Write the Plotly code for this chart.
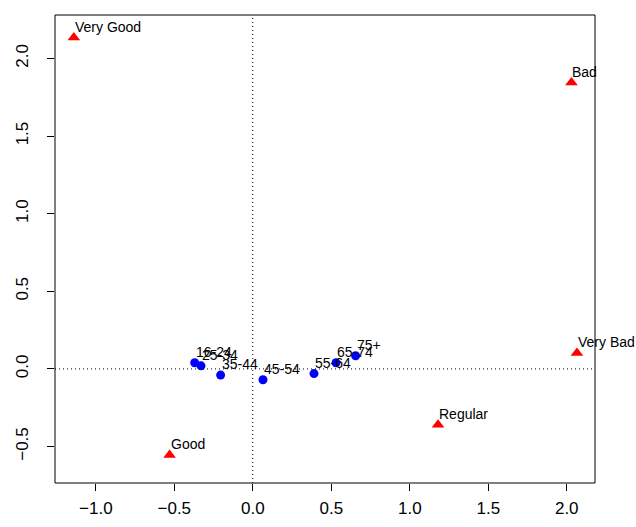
import plotly.graph_objects as go

row_labels = ["16-24", "25-34", "35-44", "45-54", "55-64", "65-74", "75+"]
row_x = [-0.37, -0.33, -0.205, 0.065, 0.39, 0.53, 0.655]
row_y = [0.04, 0.02, -0.04, -0.07, -0.03, 0.04, 0.085]

col_labels = ["Very Good", "Good", "Regular", "Bad", "Very Bad"]
col_x = [-1.14, -0.53, 1.18, 2.03, 2.065]
col_y = [2.135, -0.555, -0.36, 1.845, 0.103]

x_ticks = [-1.0, -0.5, 0.0, 0.5, 1.0, 1.5, 2.0]
y_ticks = [-0.5, 0.0, 0.5, 1.0, 1.5, 2.0]

FONT = "Liberation Sans, Arial, sans-serif"

fig = go.Figure()
fig.add_trace(go.Scatter(x=row_x, y=row_y, mode="markers",
                         marker=dict(color="blue", size=9, symbol="circle"),
                         showlegend=False, cliponaxis=False))
fig.add_trace(go.Scatter(x=col_x, y=col_y, mode="markers",
                         marker=dict(color="red", size=11, symbol="triangle-up"),
                         showlegend=False, cliponaxis=False))

for lab, xv, yv in list(zip(row_labels, row_x, row_y)) + list(zip(col_labels, col_x, col_y)):
    fig.add_annotation(x=xv, y=yv, text=lab, showarrow=False,
                       xanchor="left", yanchor="bottom", xshift=-1, yshift=1,
                       font=dict(size=14, color="black", family=FONT))

fig.add_shape(type="line", x0=0, x1=0, y0=0, y1=1, xref="x", yref="paper",
              line=dict(color="black", width=1, dash="1px,3px"))
fig.add_shape(type="line", x0=0, x1=1, y0=0, y1=0, xref="paper", yref="y",
              line=dict(color="black", width=1, dash="1px,3px"))
fig.add_shape(type="rect", x0=0, x1=1, y0=0, y1=1, xref="paper", yref="paper",
              line=dict(color="black", width=1))

tick_fmt = lambda v: f"{v:.1f}".replace("-", "\u2212")
fig.update_layout(
    width=636, height=527,
    margin=dict(l=55, r=41, t=15, b=44),
    paper_bgcolor="white", plot_bgcolor="white",
    font=dict(family=FONT, color="black", size=17),
    xaxis=dict(range=[-1.26, 2.18], tickvals=x_ticks, ticktext=[tick_fmt(v) for v in x_ticks],
               showgrid=False, zeroline=False, showline=False, automargin=False,
               ticks="outside", ticklen=7, tickcolor="black", tickfont=dict(size=17),
               ticklabelstandoff=3),
    yaxis=dict(range=[-0.735, 2.28], tickvals=y_ticks, ticktext=[tick_fmt(v) for v in y_ticks],
               showgrid=False, zeroline=False, showline=False, automargin=False,
               ticks="outside", ticklen=7, tickcolor="black", tickangle=-90,
               tickfont=dict(size=17), ticklabelstandoff=12),
)
fig.write_html("out.html", config={"displayModeBar": False},
               post_script="document.body.style.margin='0';document.body.style.padding='0';")
